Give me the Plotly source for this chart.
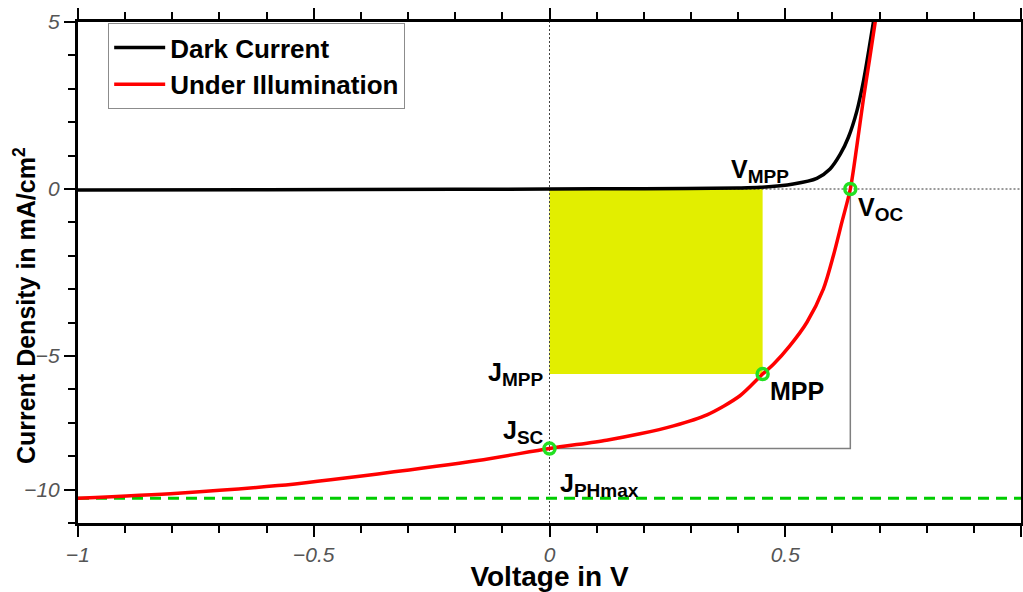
import plotly.graph_objects as go

# ---------------- data ----------------
# Dark current curve (V, J in mA/cm^2)
dark_v = [-1.0, -0.6, -0.2, 0.0, 0.2, 0.4, 0.447, 0.517, 0.567, 0.595, 0.617, 0.634, 0.652, 0.666, 0.677, 0.687]
dark_j = [-0.03, -0.02, -0.01, 0.0, 0.01, 0.03, 0.05, 0.15, 0.32, 0.6, 1.05, 1.55, 2.34, 3.24, 4.14, 5.0]

# Under illumination curve
light_v = [-1.0, -0.788, -0.576, -0.364, -0.152, 0.0, 0.121, 0.192, 0.263, 0.334, 0.404, 0.452,
           0.475, 0.510, 0.546, 0.581, 0.602, 0.620, 0.638, 0.652, 0.666, 0.679, 0.691]
light_j = [-9.26, -9.11, -8.88, -8.53, -8.13, -7.77, -7.52, -7.33, -7.09, -6.76, -6.19, -5.54,
           -5.25, -4.69, -3.99, -2.99, -2.0, -1.0, 0.0, 1.3, 2.72, 3.9, 5.02]

# characteristic points
v_mpp = 0.452
j_mpp = -5.54
v_oc = 0.638
j_sc = -7.77
j_ph_max = -9.26

# axes
x_range = [-1, 1]
y_range = [-10, 5]
x_tickvals = [-1, -0.5, 0, 0.5, 1]
x_ticktext = ["\u22121", "\u22120.5", "0", "0.5", "1"]
y_tickvals = [-9, -5, 0, 5]
y_ticktext = ["\u221210", "\u22125", "0", "5"]

FONT = "Liberation Sans, Arial, sans-serif"
GREEN = "#00cc00"
CIRCLE = "#22e022"

fig = go.Figure()

# gray construction lines (J_SC horizontal, V_OC vertical)
fig.add_trace(go.Scatter(x=[0, v_oc, v_oc], y=[j_sc, j_sc, 0], mode="lines",
                         line=dict(color="#7f7f7f", width=1.5), showlegend=False, hoverinfo="skip"))
# dotted zero lines
fig.add_trace(go.Scatter(x=[0, 0], y=y_range, mode="lines",
                         line=dict(color="#444444", width=1, dash="2px,2px"), showlegend=False, hoverinfo="skip"))
fig.add_trace(go.Scatter(x=[0, x_range[1]], y=[0, 0], mode="lines",
                         line=dict(color="#333333", width=1, dash="2px,2px"), showlegend=False, hoverinfo="skip"))
# photocurrent limit
fig.add_trace(go.Scatter(x=x_range, y=[j_ph_max, j_ph_max], mode="lines",
                         line=dict(color=GREEN, width=3, dash="11px,7px"), showlegend=False, hoverinfo="skip"))

fig.add_trace(go.Scatter(x=dark_v, y=dark_j, mode="lines", name="Dark Current",
                         line=dict(color="black", width=3.5, shape="spline", smoothing=0.8)))
fig.add_trace(go.Scatter(x=light_v, y=light_j, mode="lines", name="Under Illumination",
                         line=dict(color="#ff0000", width=3.5, shape="spline", smoothing=0.8)))

# marked points
fig.add_trace(go.Scatter(x=[0, v_mpp, v_oc], y=[j_sc, j_mpp, 0], mode="markers",
                         marker=dict(symbol="circle-open", size=11, color=CIRCLE, line=dict(width=3.5, color=CIRCLE)),
                         showlegend=False, hoverinfo="skip"))

# power rectangle
fig.add_shape(type="rect", x0=0, x1=v_mpp, y0=0, y1=j_mpp, xref="x", yref="y",
              fillcolor="#e2ee00", line=dict(width=0), layer="below")

ann_font = dict(family=FONT, size=25, color="black", weight="bold")
sub = lambda s: "<sub><span style='font-size:19px'>%s</span></sub>" % s
labels = [
    ("V" + sub("MPP"), 0.447, 0.54),
    ("V" + sub("OC"), 0.701, -0.6),
    ("J" + sub("MPP"), -0.073, -5.54),
    ("MPP", 0.525, -6.05),
    ("J" + sub("SC"), -0.056, -7.28),
    ("J" + sub("PHmax"), 0.105, -8.86),
]
for text, ax, ay in labels:
    fig.add_annotation(x=ax, y=ay, text=text, showarrow=False, font=ann_font,
                       xanchor="center", yanchor="middle")

# y axis title as annotation
fig.add_annotation(xref="paper", yref="paper", x=0, y=0.433, xshift=-53, xanchor="center", yanchor="middle",
                   text="Current Density in mA/cm<sup>2</sup>", textangle=-90, showarrow=False,
                   font=dict(family=FONT, size=25, color="black", weight="bold"))

tickfont = dict(family=FONT, size=21, color="#555555", style="italic")
fig.update_xaxes(range=x_range, tickmode="array", tickvals=x_tickvals, ticktext=x_ticktext,
                 ticks="outside", ticklen=11, tickwidth=2, tickcolor="black",
                 showline=True, linewidth=3, linecolor="black", mirror="ticks",
                 showgrid=False, zeroline=False, tickfont=tickfont,
                 minor=dict(dtick=0.1, tick0=0, ticks="outside", ticklen=7, tickwidth=2, tickcolor="black", showgrid=False),
                 title=dict(text="Voltage in V", font=dict(family=FONT, size=28, color="black", weight="bold"), standoff=2))
fig.update_yaxes(range=y_range, tickmode="array", tickvals=y_tickvals, ticktext=y_ticktext,
                 ticks="outside", ticklen=11, tickwidth=2, tickcolor="black",
                 showline=True, linewidth=3, linecolor="black", mirror="ticks",
                 showgrid=False, zeroline=False, tickfont=tickfont,
                 minor=dict(dtick=1, tick0=0, ticks="outside", ticklen=7, tickwidth=2, tickcolor="black", showgrid=False))

fig.update_layout(
    width=1023, height=592,
    margin=dict(l=78, r=2, t=22, b=69, autoexpand=False),
    plot_bgcolor="white", paper_bgcolor="white",
    legend=dict(x=0.032, y=0.998, xanchor="left", yanchor="top",
                bgcolor="white", bordercolor="#8c8c8c", borderwidth=1,
                font=dict(family=FONT, size=26, color="black", weight="bold"),
                itemwidth=51, tracegroupgap=0),
    showlegend=True,
)

fig.write_html("out.html", config={"displayModeBar": False},
               post_script="document.body.style.margin='0px';document.documentElement.style.overflow='hidden';")
